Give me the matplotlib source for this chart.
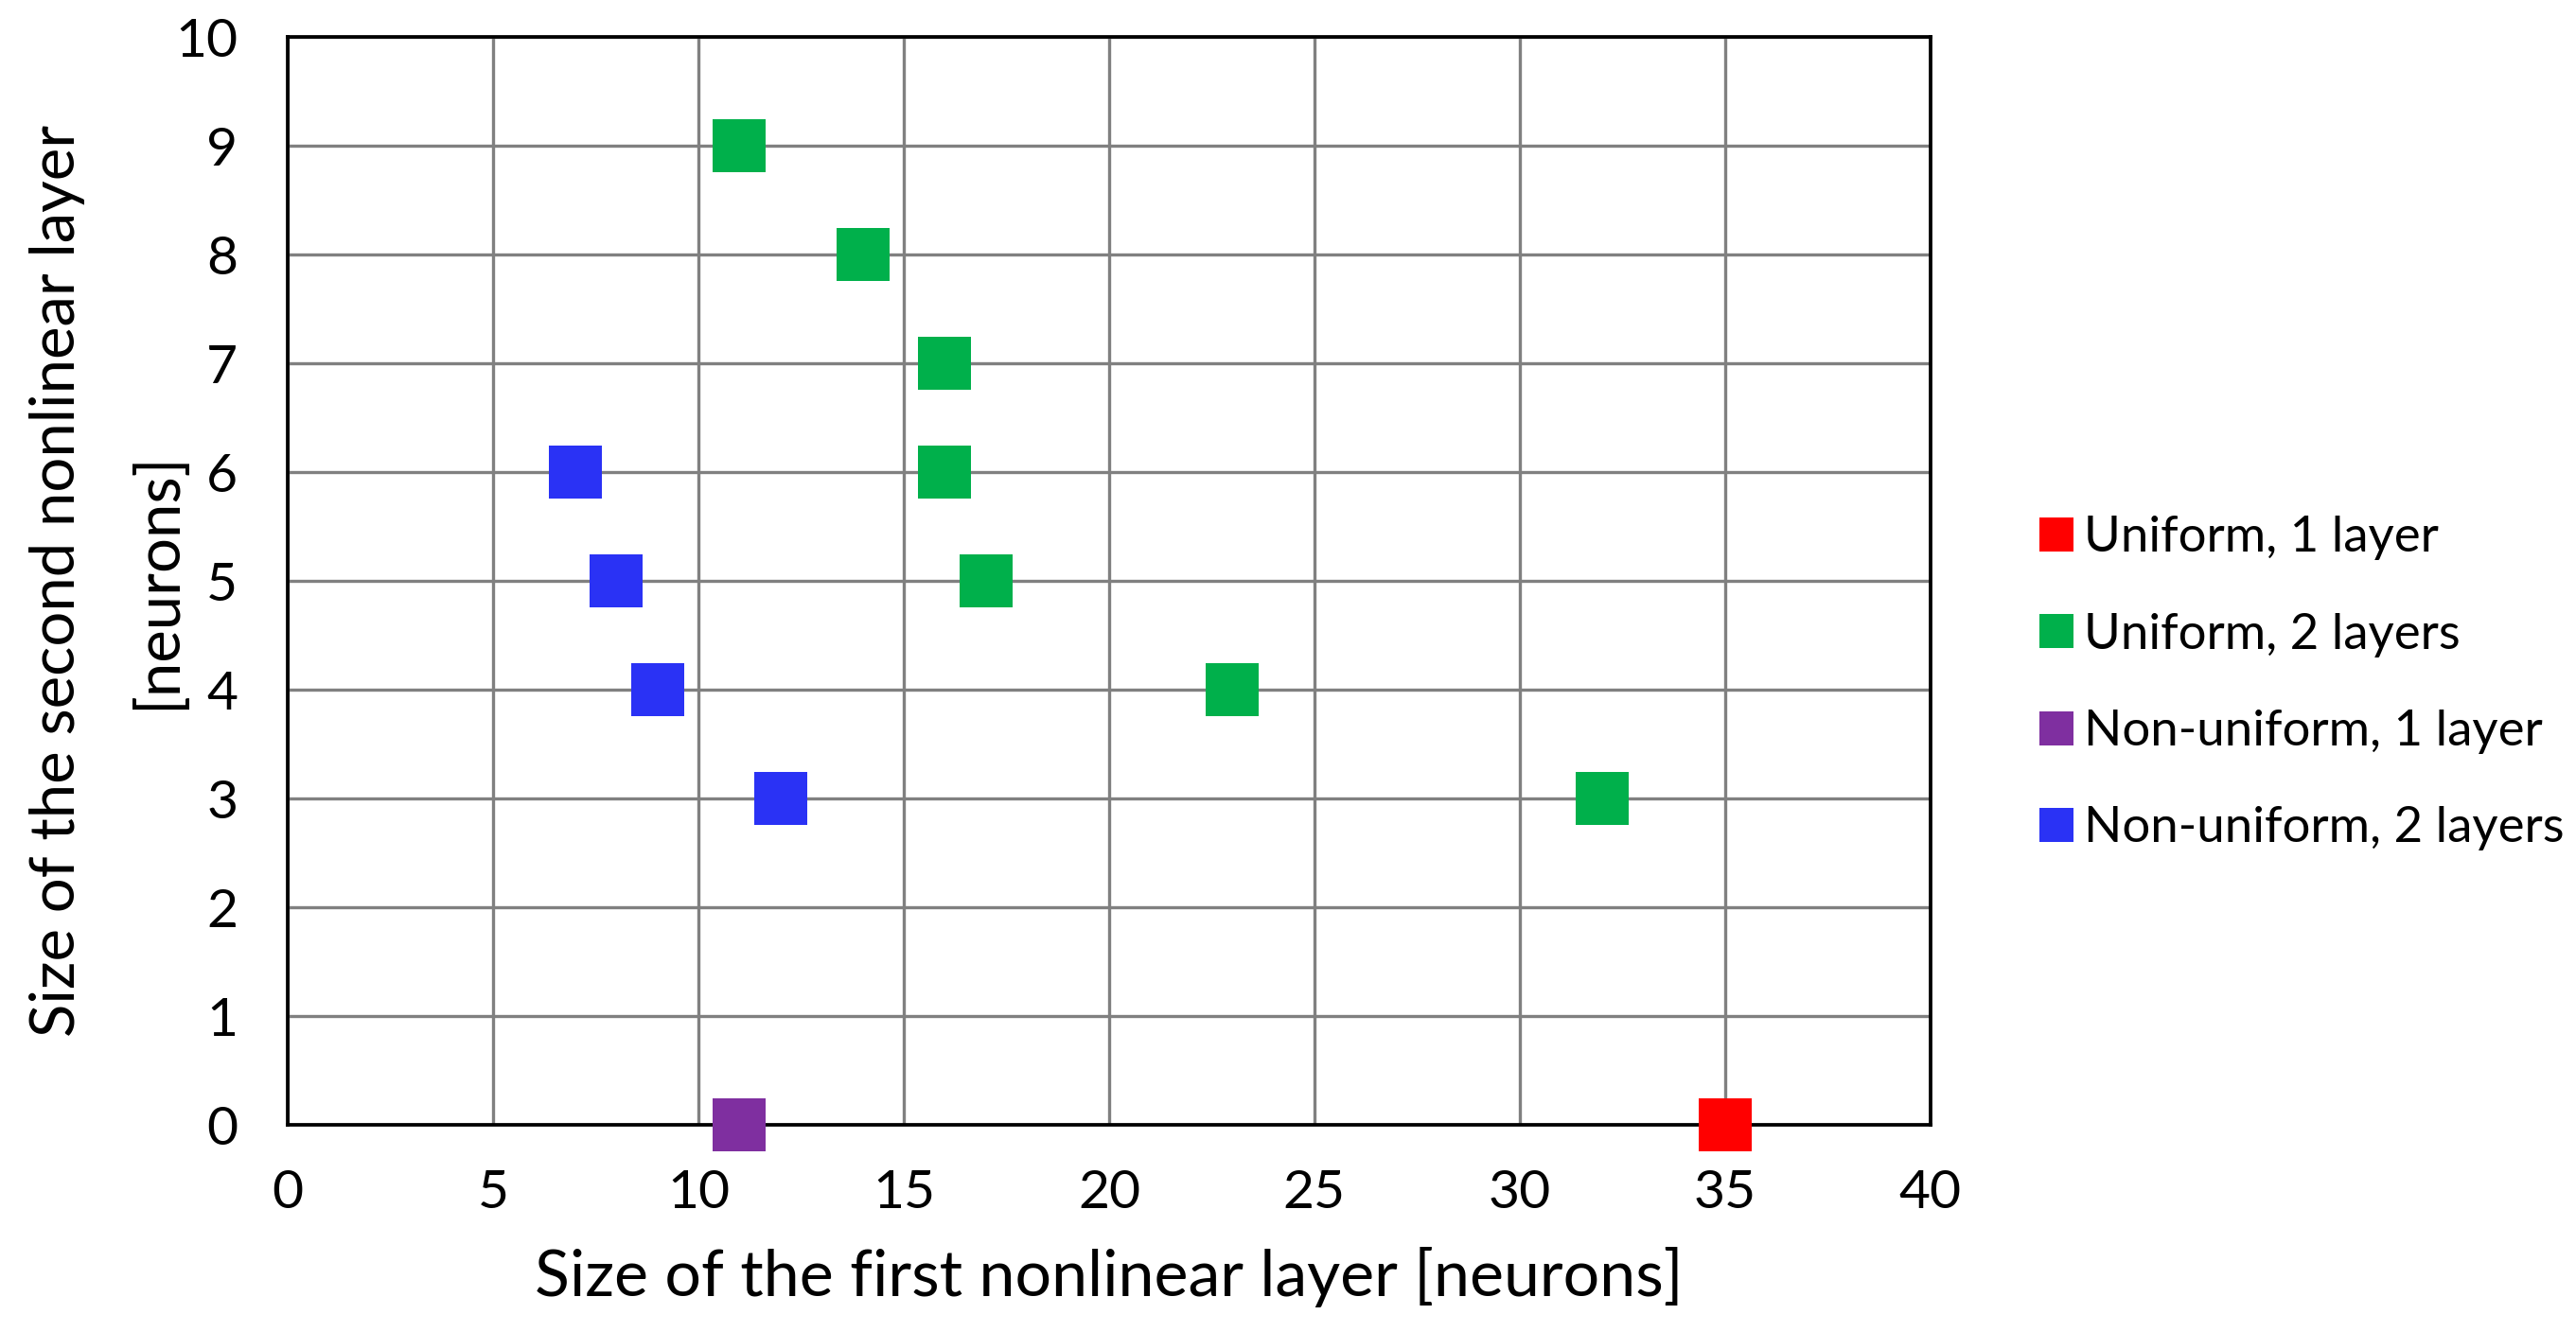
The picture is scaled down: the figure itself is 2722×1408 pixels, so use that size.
import matplotlib
matplotlib.use("Agg")
import matplotlib.pyplot as plt
from matplotlib.lines import Line2D

plt.rcParams['font.family'] = ['Lato', 'DejaVu Sans']

series_names = ["Uniform, 1 layer", "Uniform, 2 layers", "Non-uniform, 1 layer", "Non-uniform, 2 layers"]
series_colors = ["#FF0000", "#00B04B", "#7F2FA0", "#2A32F5"]

uni1_x = [35]
uni1_y = [0]
uni2_x = [11, 14, 16, 16, 17, 23, 32]
uni2_y = [9, 8, 7, 6, 5, 4, 3]
non1_x = [11]
non1_y = [0]
non2_x = [7, 8, 9, 12]
non2_y = [6, 5, 4, 3]

xticks = [0, 5, 10, 15, 20, 25, 30, 35, 40]
yticks = list(range(0, 11))

fig = plt.figure(figsize=(27.22, 14.08), dpi=100)
ax = fig.add_axes([0.1117, 0.1555, 0.6377, 0.8168])

data = [(uni1_x, uni1_y), (uni2_x, uni2_y), (non1_x, non1_y), (non2_x, non2_y)]
for (xs, ys), c in zip(data, series_colors):
    ax.scatter(xs, ys, marker='s', s=41**2, color=c, linewidths=0, zorder=3, clip_on=False)

ax.set_xlim(0, 40)
ax.set_ylim(0, 10)
ax.set_xticks(xticks)
ax.set_yticks(yticks)
ax.grid(True, color='#808080', linewidth=2.4, zorder=0)
ax.set_axisbelow(True)
for sp in ax.spines.values():
    sp.set_color('black')
    sp.set_linewidth(2.7)
    sp.set_zorder(2)
ax.tick_params(length=0, labelsize=41)
ax.tick_params(axis='x', pad=34)
ax.tick_params(axis='y', pad=38)

ax.set_xlabel("Size of the first nonlinear layer [neurons]", fontsize=49, labelpad=22)
ax.set_ylabel("Size of the second nonlinear layer\n[neurons]", fontsize=47, linespacing=1.95)
ax.yaxis.set_label_coords(-0.062, 0.5)

handles = [Line2D([], [], marker='s', linestyle='none', markersize=26, color=c, markeredgewidth=0)
           for c in series_colors]
fig.legend(handles, series_names, loc='center left', bbox_to_anchor=(0.775, 0.487),
           frameon=False, fontsize=38, handlelength=0.6, handletextpad=0.25, labelspacing=1.05)

fig.savefig("out.png", dpi=100, facecolor='white')
